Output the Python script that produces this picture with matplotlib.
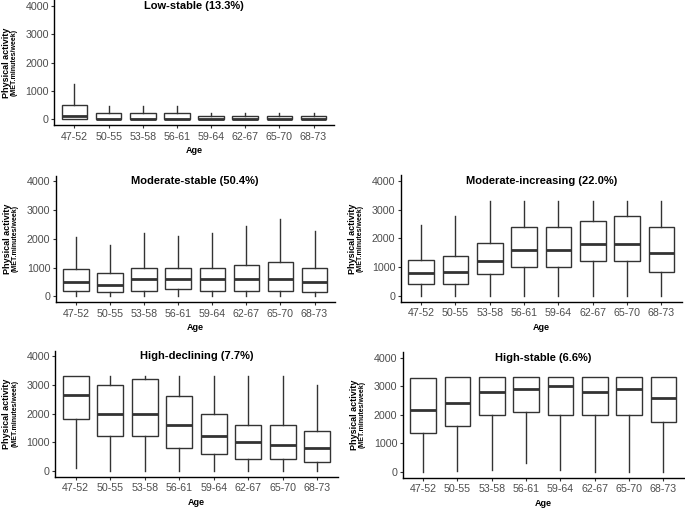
import matplotlib
matplotlib.use("Agg")
import matplotlib.pyplot as plt
import matplotlib.transforms as mtransforms

plt.rcParams['font.family'] = ['Liberation Sans', 'DejaVu Sans']

# age groups on the x axis
ages = ['47-52', '50-55', '53-58', '56-61', '59-64', '62-67', '65-70', '68-73']

# box statistics per trajectory group (MET.minutes/week)
low_lo = [0, 0, 0, 0, 0, 0, 0, 0]
low_q1 = [0, 0, 0, 0, 0, 0, 0, 0]
low_med = [120, 20, 20, 20, 10, 10, 10, 10]
low_q3 = [500, 210, 210, 210, 100, 100, 100, 100]
low_hi = [1240, 480, 480, 480, 240, 240, 240, 240]

mods_lo = [0, 0, 0, 0, 0, 0, 0, 0]
mods_q1 = [200, 140, 200, 260, 200, 200, 200, 140]
mods_med = [500, 400, 600, 600, 600, 600, 600, 500]
mods_q3 = [950, 800, 1000, 1000, 1000, 1100, 1200, 1000]
mods_hi = [2050, 1800, 2200, 2100, 2200, 2460, 2680, 2280]

modi_lo = [0, 0, 0, 0, 0, 0, 0, 0]
modi_q1 = [400, 400, 750, 1000, 1020, 1200, 1200, 840]
modi_med = [800, 840, 1200, 1600, 1600, 1800, 1800, 1500]
modi_q3 = [1240, 1400, 1850, 2400, 2400, 2600, 2800, 2400]
modi_hi = [2480, 2780, 3300, 3300, 3300, 3300, 3300, 3300]

hdec_lo = [100, 0, 0, 0, 0, 0, 0, 0]
hdec_q1 = [1800, 1200, 1200, 800, 600, 400, 400, 300]
hdec_med = [2650, 2000, 2000, 1600, 1200, 1000, 900, 800]
hdec_q3 = [3320, 3000, 3200, 2600, 2000, 1600, 1600, 1400]
hdec_hi = [3320, 3300, 3300, 3300, 3300, 3300, 3300, 3000]

hst_lo = [0, 30, 50, 300, 60, 0, 0, 0]
hst_q1 = [1360, 1600, 2000, 2100, 2000, 2000, 2000, 1740]
hst_med = [2150, 2400, 2800, 2900, 3000, 2800, 2900, 2600]
hst_q3 = [3300, 3330, 3330, 3330, 3330, 3330, 3330, 3330]
hst_hi = [3300, 3330, 3330, 3330, 3330, 3330, 3330, 3330]

W, H = 685, 508
fig = plt.figure(figsize=(W / 100, H / 100), dpi=100)


def px_axes(left, top, right, bottom):
    return fig.add_axes([left / W, 1 - bottom / H, (right - left) / W, (bottom - top) / H])


def panel(ax, title, lo, q1, med, q3, hi):
    stats = []
    for i in range(len(ages)):
        stats.append({'whislo': lo[i], 'q1': q1[i], 'med': med[i],
                      'q3': q3[i], 'whishi': hi[i], 'fliers': []})
    ax.bxp(stats, positions=range(len(ages)), widths=0.75, showcaps=False,
           showfliers=False, patch_artist=True,
           boxprops=dict(facecolor='white', edgecolor='#333333', linewidth=1.0),
           whiskerprops=dict(color='#333333', linewidth=1.0),
           medianprops=dict(color='#333333', linewidth=2.0, solid_capstyle='butt'))
    ax.set_xlim(-0.6, len(ages) - 0.4)
    ax.set_ylim(-200, 4200)
    ax.set_yticks([0, 1000, 2000, 3000, 4000])
    ax.set_xticks(range(len(ages)))
    ax.set_xticklabels(ages)
    for s in ['top', 'right']:
        ax.spines[s].set_visible(False)
    for s in ['left', 'bottom']:
        ax.spines[s].set_linewidth(1.0)
        ax.spines[s].set_color('black')
    ax.tick_params(length=2.2, width=0.8, color='#333333', labelcolor='#4d4d4d',
                   labelsize=7.7, pad=1.5)
    ax.tick_params(axis='x', pad=2.5)
    ax.set_xlabel('Age', fontsize=6.5, fontweight='bold', labelpad=3.5)
    tr = mtransforms.blended_transform_factory(ax.transAxes, ax.transData)
    ax.text(0.5, 4000, title, transform=tr, ha='center', va='center',
            fontsize=8, fontweight='bold')
    wpx = ax.get_position().width * W
    ax.text(-48 / wpx, 0.5, 'Physical activity', transform=ax.transAxes,
            rotation=90, ha='center', va='center', fontsize=6.5, fontweight='bold')
    ax.text(-40 / wpx, 0.5, '(MET.minutes/week)', transform=ax.transAxes,
            rotation=90, ha='center', va='center', fontsize=5, fontweight='bold')


ax1 = px_axes(54, 0.3, 334, 125)
panel(ax1, 'Low-stable (13.3%)', low_lo, low_q1, low_med, low_q3, low_hi)

ax2 = px_axes(55.5, 175.5, 335, 302)
panel(ax2, 'Moderate-stable (50.4%)', mods_lo, mods_q1, mods_med, mods_q3, mods_hi)

ax3 = px_axes(400.5, 175.5, 682, 301.5)
panel(ax3, 'Moderate-increasing (22.0%)', modi_lo, modi_q1, modi_med, modi_q3, modi_hi)

ax4 = px_axes(55, 350.5, 338, 476.5)
panel(ax4, 'High-declining (7.7%)', hdec_lo, hdec_q1, hdec_med, hdec_q3, hdec_hi)

ax5 = px_axes(402.5, 352, 684, 477.5)
panel(ax5, 'High-stable (6.6%)', hst_lo, hst_q1, hst_med, hst_q3, hst_hi)

fig.savefig('out.png', dpi=100)
